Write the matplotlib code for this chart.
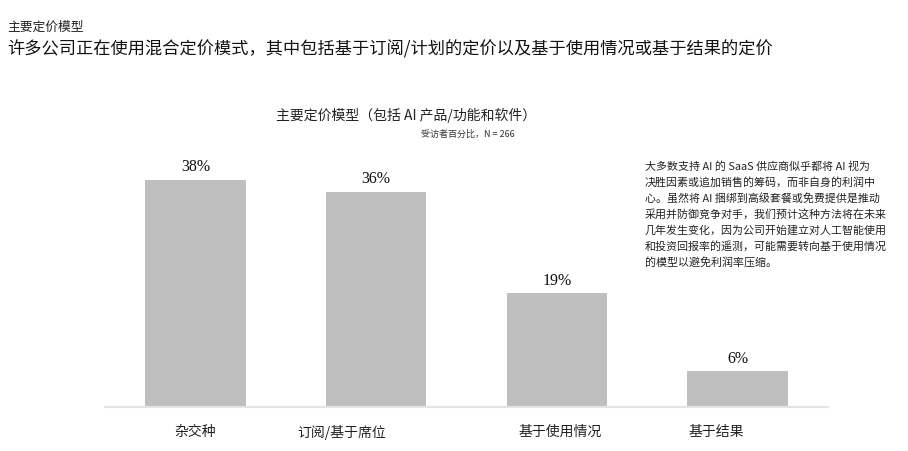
import matplotlib
matplotlib.use("Agg")
import matplotlib.pyplot as plt

plt.rcParams['font.family'] = ['Noto Sans CJK SC', 'DejaVu Sans']

categories = ["杂交种", "订阅/基于席位", "基于使用情况", "基于结果"]
values = [38, 36, 19, 6]
value_labels = ["38%", "36%", "19%", "6%"]

kicker = "主要定价模型"
headline = "许多公司正在使用混合定价模式，其中包括基于订阅/计划的定价以及基于使用情况或基于结果的定价"
chart_title = "主要定价模型（包括 AI 产品/功能和软件）"
chart_subtitle = "受访者百分比，N = 266"
note_lines = [
    "大多数支持 AI 的 SaaS 供应商似乎都将 AI 视为",
    "决胜因素或追加销售的筹码，而非自身的利润中",
    "心。虽然将 AI 捆绑到高级套餐或免费提供是推动",
    "采用并防御竞争对手，我们预计这种方法将在未来",
    "几年发生变化，因为公司开始建立对人工智能使用",
    "和投资回报率的遥测，可能需要转向基于使用情况",
    "的模型以避免利润率压缩。",
]

# style: horizontal shift of each category label (data units)
label_dx = [0.0, -0.19, 0.02, -0.12]

W, H = 908, 452
fig = plt.figure(figsize=(W / 100, H / 100), dpi=100)

ax_left, ax_right = 105, 828
ax_bottom, ax_top = 408, 166
ax = fig.add_axes([ax_left / W, 1 - ax_bottom / H,
                   (ax_right - ax_left) / W, (ax_bottom - ax_top) / H])

x = list(range(len(categories)))
bars = ax.bar(x, values, width=0.555, color="#bfbfbf", edgecolor="none", zorder=2)
ax.set_xlim(-0.5, len(categories) - 0.5)
ax.set_ylim(0, 40.5)

ax.bar_label(bars, labels=value_labels, padding=4, fontsize=11.5,
             family="Liberation Serif", color="#111111")

for s in ["top", "left", "right"]:
    ax.spines[s].set_visible(False)
ax.spines["bottom"].set_color("#e4e4e4")
ax.spines["bottom"].set_linewidth(1.6)
ax.set_yticks([])
ax.set_xticks([])

for i, (cat, dx) in enumerate(zip(categories, label_dx)):
    ax.annotate(cat, xy=(i + dx, 0), xycoords=("data", "axes fraction"),
                xytext=(0, -17.3), textcoords="offset points",
                ha="center", va="center", fontsize=10, color="#222222")

fig.text(7 / W, 1 - 27 / H, kicker, fontsize=9.2, color="#222222",
         ha="left", va="center")
fig.text(7 / W, 1 - 49 / H, headline, fontsize=12.4, color="#111111",
         ha="left", va="center")
fig.text(406 / W, 1 - 115 / H, chart_title, fontsize=10, color="#222222",
         ha="center", va="center")
fig.text(515 / W, 1 - 134 / H, chart_subtitle, fontsize=6.5, color="#333333",
         ha="right", va="center")

for k, line in enumerate(note_lines):
    fig.text(645 / W, 1 - (167 + k * 15.9) / H, line, fontsize=7.9,
             color="#222222", ha="left", va="center")

fig.savefig("out.png", dpi=100)
